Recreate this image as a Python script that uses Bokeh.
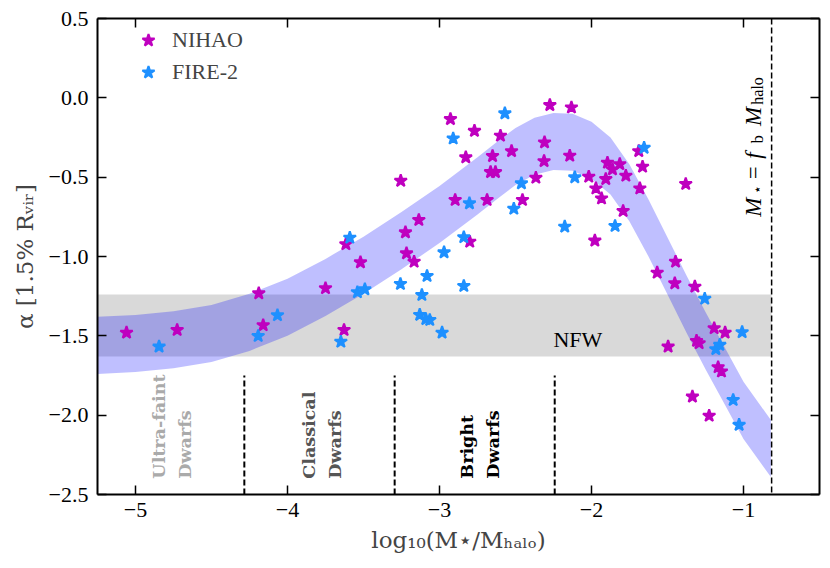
import math
from bokeh.plotting import figure
from bokeh.models import (LinearAxis, Legend, LegendItem, FixedTicker, Span,
                          BoxAnnotation, ColumnDataSource)
from bokeh.core.properties import value
from bokeh.embed import file_html
from bokeh.resources import INLINE

# ---------------- data ----------------
nihao_x = [-5.059, -4.726, -4.189, -4.160, -3.750, -3.628, -3.616, -3.520, -3.255, -3.224,
           -3.136, -3.217, -3.167, -2.928, -2.897, -2.801, -2.827, -2.770, -2.687, -2.651,
           -2.664, -2.632, -2.599, -2.526, -2.454, -2.366, -2.309, -2.312, -2.274, -2.132,
           -2.143, -1.978, -2.018, -1.971, -1.934, -1.906, -1.895, -1.862, -1.814, -1.774,
           -1.792, -1.689, -1.664, -1.682, -1.380, -1.447, -1.568, -1.452, -1.320, -1.193,
           -1.121, -1.496, -1.309, -1.292, -1.167, -1.145, -1.336, -1.226]
nihao_y = [-1.480, -1.463, -1.232, -1.433, -1.200, -1.463, -0.923, -1.037, -0.523, -0.848,
           -0.770, -0.980, -1.033, -0.134, -0.644, -0.907, -0.375, -0.208, -0.644, -0.367,
           -0.468, -0.468, -0.239, -0.336, -0.644, -0.504, -0.281, -0.399, -0.046, -0.061,
           -0.365, -0.900, -0.497, -0.571, -0.634, -0.512, -0.409, -0.451, -0.418, -0.491,
           -0.713, -0.336, -0.434, -0.571, -0.543, -1.033, -1.102, -1.169, -1.190, -1.452,
           -1.480, -1.568, -1.532, -1.547, -1.698, -1.725, -1.883, -2.004]

fire_x = [-4.845, -4.193, -4.066, -3.649, -3.590, -3.540, -3.491, -3.257, -3.082, -3.116,
          -3.130, -3.090, -3.064, -2.983, -2.970, -2.910, -2.840, -2.840, -2.803, -2.570,
          -2.461, -2.511, -2.176, -2.110, -1.845, -1.654, -1.255, -1.009, -1.156, -1.182,
          -1.068, -1.029]
fire_y = [-1.568, -1.501, -1.370, -1.537, -0.882, -1.225, -1.207, -1.173, -1.123, -1.243,
          -1.368, -1.395, -1.400, -1.480, -0.974, -0.256, -0.879, -1.186, -0.665, -0.098,
          -0.539, -0.699, -0.812, -0.501, -0.808, -0.315, -1.266, -1.477, -1.557, -1.584,
          -1.904, -2.061]

band_x = [-5.25, -5.0, -4.75, -4.5, -4.25, -4.0, -3.75, -3.5, -3.25, -3.0, -2.75, -2.625,
          -2.5, -2.375, -2.25, -2.125, -2.0, -1.875, -1.75, -1.625, -1.5, -1.375, -1.25,
          -1.125, -1.0, -0.82]
band_center = [-1.56, -1.548, -1.525, -1.485, -1.415, -1.32, -1.195, -1.055, -0.90, -0.735,
               -0.555, -0.46, -0.37, -0.305, -0.275, -0.28, -0.33, -0.43, -0.60, -0.82,
               -1.06, -1.30, -1.53, -1.75, -1.97, -2.21]
band_halfwidth = 0.18

nfw_low, nfw_high = -1.63, -1.24
dwarf_bounds = [-4.284, -3.295, -2.242]
dwarf_line_bottom, dwarf_line_top = -2.5, -1.75
fb_log = -0.815

dwarf_names = ["Ultra-faint\nDwarfs", "Classical\nDwarfs", "Bright\nDwarfs"]
dwarf_label_x = [-4.76, -3.77, -2.735]
dwarf_label_y = [-2.40, -2.40, -2.40]

x_ticks = [-5, -4, -3, -2, -1]
x_tick_labels = ["\u22125", "\u22124", "\u22123", "\u22122", "\u22121"]
y_ticks = [0.5, 0.0, -0.5, -1.0, -1.5, -2.0, -2.5]
y_tick_labels = ["0.5", "0.0", "\u22120.5", "\u22121.0", "\u22121.5", "\u22122.0", "\u22122.5"]

# ---------------- styling ----------------
FONT = "Liberation Serif"
WIDE = "DejaVu Serif"
MAGENTA = "#bf00bf"
BLUE = "#1e90ff"

p = figure(width=822, height=560, x_range=(-5.25, -0.5), y_range=(-2.5, 0.5),
           output_backend="svg", toolbar_location=None,
           min_border_left=97, min_border_right=3, min_border_top=18, min_border_bottom=66)
p.xgrid.visible = False
p.ygrid.visible = False
p.outline_line_color = None
p.background_fill_color = "white"
p.border_fill_color = "white"

p.add_layout(LinearAxis(), "above")
p.add_layout(LinearAxis(), "right")

for ax in p.xaxis:
    ax.ticker = FixedTicker(ticks=x_ticks)
for ax in p.yaxis:
    ax.ticker = FixedTicker(ticks=y_ticks)

for ax in p.axis:
    ax.major_tick_in = 9
    ax.major_tick_out = 0
    ax.minor_tick_in = 0
    ax.minor_tick_out = 0
    ax.axis_line_width = 2
    ax.axis_line_color = "black"
    ax.major_tick_line_width = 1.5
    ax.major_label_text_font = FONT
    ax.major_label_text_font_size = "22px"
    ax.major_label_text_color = "black"
    ax.axis_label_text_font = WIDE
    ax.axis_label_text_font_style = "normal"
    ax.axis_label_text_font_size = "23px"

p.below[0].major_label_overrides = dict(zip(x_ticks, x_tick_labels))
p.left[0].major_label_overrides = dict(zip(y_ticks, y_tick_labels))
p.below[0].major_label_standoff = 8
p.left[0].major_label_standoff = 9
p.above[0].major_label_overrides = {t: "" for t in x_ticks}
p.right[0].major_label_overrides = {t: "" for t in y_ticks}
p.above[0].major_label_standoff = 0
p.right[0].major_label_standoff = 0

p.below[0].axis_label = "log\u2081\u2080(M\u22c6/M\u2095\u2090\u2097\u2092)"
p.left[0].axis_label = "\u03b1 [1.5% R\u1d65\u1d62\u1d63]"
p.below[0].axis_label_standoff = 7
p.left[0].axis_label_standoff = 8

# NFW grey band
p.add_layout(BoxAnnotation(bottom=nfw_low, top=nfw_high, right=fb_log,
                           fill_color="gray", fill_alpha=0.3, line_color=None,
                           level="underlay"))

# model band
band_lo = [c - band_halfwidth for c in band_center]
band_hi = [c + band_halfwidth for c in band_center]
p.varea(x=band_x, y1=band_lo, y2=band_hi, fill_color="blue", fill_alpha=0.25)

# dwarf boundaries
p.segment(x0=dwarf_bounds, y0=[dwarf_line_bottom] * 3, x1=dwarf_bounds,
          y1=[dwarf_line_top] * 3, line_color="black", line_width=2, line_dash="6 3")
p.add_layout(Span(location=fb_log, dimension="height", line_color="black",
                  line_width=1.5, line_dash="6 3"))

# points
r_n = p.scatter(nihao_x, nihao_y, marker="star", size=13, fill_color=MAGENTA,
                line_color=MAGENTA, line_width=2)
r_f = p.scatter(fire_x, fire_y, marker="star", size=13, fill_color=BLUE,
                line_color=BLUE, line_width=2)

# texts
p.text(x=dwarf_label_x, y=dwarf_label_y, text=dwarf_names, angle=math.pi / 2,
       text_align="left", text_baseline="middle", text_font=value(WIDE),
       text_font_style="bold", text_font_size="17.5px", text_line_height=1.3,
       text_color=["#aaaaaa", "#555555", "#000000"])

p.text(x=[-2.09], y=[-1.526], text=["NFW"], text_align="center",
       text_baseline="middle", text_font=value(FONT), text_font_size="22px",
       text_color="black")

# M* = f_b M_halo, built from pieces (rotated)
fb_src = ColumnDataSource(dict(
    x=[-0.937] * 7, y=[-0.749] * 7,
    text=["M", "\u22c6", "=", "f", "b", "M", "halo"],
    xo=[0, 4, 0, 0, 4, 0, 4],
    yo=[0, -22.5, -37.5, -58.0, -73.5, -90.7, -112.0],
    size=["23px", "14px", "23px", "23px", "16px", "23px", "16px"],
    style=["italic", "normal", "normal", "italic", "normal", "italic", "normal"],
))
p.text(x="x", y="y", text="text", x_offset="xo", y_offset="yo", source=fb_src,
       angle=math.pi / 2, text_align="left", text_baseline="alphabetic",
       text_font=value(FONT), text_font_size="size", text_font_style="style",
       text_color="black")

legend = Legend(items=[LegendItem(label="NIHAO", renderers=[r_n]),
                       LegendItem(label="FIRE-2", renderers=[r_f])],
                location=(35, 406), padding=0, margin=0, spacing=-3,
                glyph_height=32, glyph_width=32, label_height=32,
                label_standoff=8, background_fill_alpha=0, border_line_alpha=0,
                label_text_font=FONT, label_text_font_size="22px")
p.add_layout(legend)

open("out.html", "w").write(file_html(p, INLINE))
